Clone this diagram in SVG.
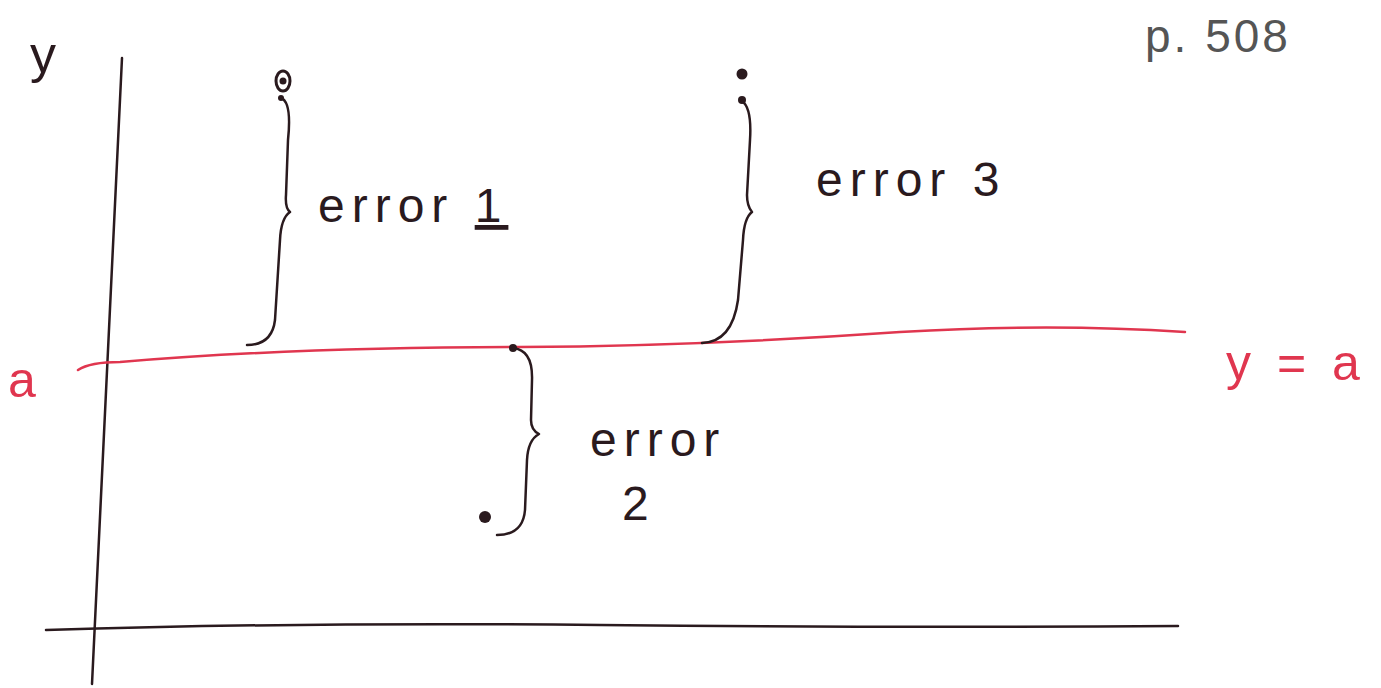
<svg xmlns="http://www.w3.org/2000/svg" width="1381" height="688" viewBox="0 0 1381 688">
<style>
.ink{fill:none;stroke:#2a1a1e;stroke-width:2.5;stroke-linecap:round;stroke-linejoin:round}
.red{fill:none;stroke:#e0364f;stroke-width:2.5;stroke-linecap:round}
.t{font-family:"Liberation Sans",Arial,sans-serif;fill:#2a1a1e;font-size:48px;letter-spacing:7px}
.tr{font-family:"Liberation Sans",Arial,sans-serif;fill:#e0364f;font-size:50px}
.dot{fill:#2a1a1e}
</style>
<rect width="1381" height="688" fill="#ffffff"/>
<g id="axes">
<path class="ink" d="M122 58 Q108 360 92 684"/>
<path class="ink" d="M46 630 Q300 622 600 625 T1178 626"/>
<text class="t" x="30" y="72" style="font-size:52px">y</text>
</g>
<g id="line-y-a">
<path class="red" d="M78 370 Q90 362 120 362 Q300 347 520 347 Q700 346 900 332 Q1050 323 1185 332"/>
<text class="tr" x="8" y="397">a</text>
<text class="tr" x="1226" y="380" style="letter-spacing:6px">y = a</text>
</g>
<g id="page">
<text class="t" x="1145" y="52" style="font-size:46px;letter-spacing:3px;fill:#555">p. 508</text>
</g>
<g id="point1">
<ellipse cx="283" cy="81" rx="7" ry="10" class="ink" style="stroke-width:3px"/>
<circle cx="283" cy="81" r="3.5" class="dot"/>
<circle cx="281" cy="98" r="3" class="dot"/>
</g>
<g id="point3">
<circle cx="742" cy="74" r="5.5" class="dot"/>
<circle cx="742" cy="100" r="4" class="dot"/>
</g>
<g id="point2">
<circle cx="485" cy="517" r="6" class="dot"/>
<circle cx="513" cy="348" r="4" class="dot"/>
</g>
<g id="connectors">
<path class="ink" d="M281 98 Q292 102 288 140 L286 195 Q285 208 290 212 Q281 218 280 240 L275 320 Q272 345 247 345"/>
<path class="ink" d="M742 101 Q752 108 750 140 L747 195 Q747 206 752 212 Q744 218 743 240 L738 300 Q732 342 702 343"/>
<path class="ink" d="M513 348 Q533 350 532 380 L531 420 Q531 430 539 434 Q528 440 527 460 L525 510 Q523 535 497 535"/>
</g>
<g id="labels">
<text class="t" x="318" y="222">error <tspan text-decoration="underline">1</tspan></text>
<text class="t" x="816" y="196">error 3</text>
<text class="t" x="590" y="456">error</text>
<text class="t" x="622" y="520">2</text>
</g>
</svg>
